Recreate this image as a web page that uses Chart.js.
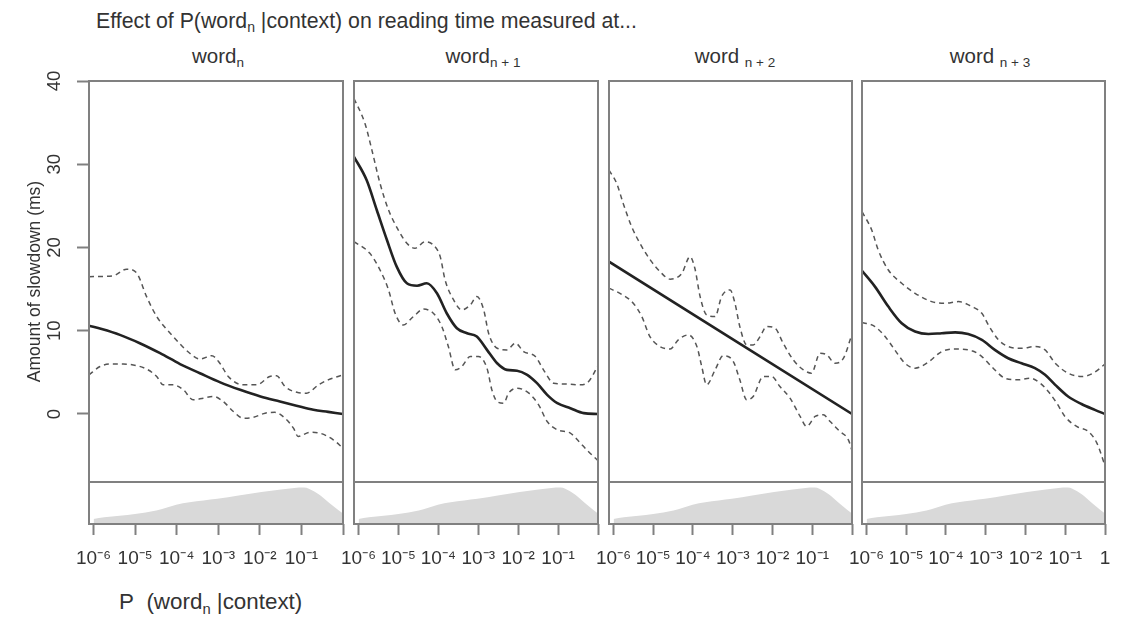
<!DOCTYPE html>
<html><head><meta charset="utf-8">
<script src="https://cdn.jsdelivr.net/npm/chart.js@4.4.1/dist/chart.umd.min.js"></script>
<style>
html,body{margin:0;padding:0;background:#fff;}
body{width:1124px;height:627px;position:relative;overflow:hidden;font-family:"Liberation Sans",Arial,sans-serif;color:#333;}
canvas{position:absolute;}
.txt{position:absolute;white-space:nowrap;line-height:1;}
.ctr{transform:translate(-50%,-50%);}
.box{position:absolute;border:2px solid #808080;box-sizing:border-box;pointer-events:none;}
sub{font-size:0.66em;vertical-align:-0.32em;line-height:0;}
</style></head><body>
<div class="txt" style="left:96px;top:11px;font-size:21.3px">Effect of P(word<sub>n</sub> |context) on reading time measured at...</div>
<div class="txt ctr" style="left:218px;top:56px;font-size:20.5px">word<sub>n</sub></div>
<div class="txt ctr" style="left:483px;top:56px;font-size:20.5px">word<sub>n + 1</sub></div>
<div class="txt ctr" style="left:735px;top:56px;font-size:20.5px">word <sub>n + 2</sub></div>
<div class="txt ctr" style="left:990px;top:56px;font-size:20.5px">word <sub>n + 3</sub></div>
<div class="txt" style="left:119px;top:591px;font-size:22.4px">P&nbsp; (word<sub>n</sub> |context)</div>
<script>
// ---------- data (log10 P(word_n|context), slowdown in ms) ----------
const panelNames = ['word_n', 'word_n+1', 'word_n+2', 'word_n+3'];
const yTicks = [0, 10, 20, 30, 40];
const xTickExp = [-6, -5, -4, -3, -2, -1, 0];
const xTickLabels = ['10\u207B\u2076','10\u207B\u2075','10\u207B\u2074','10\u207B\u00B3','10\u207B\u00B2','10\u207B\u00B9',''];
const xTickLabelsLast = ['10\u207B\u2076','10\u207B\u2075','10\u207B\u2074','10\u207B\u00B3','10\u207B\u00B2','10\u207B\u00B9','1'];

// panel 1: word_n
const p1FitX = [-6, -5.7, -5.27, -4.8, -4.32, -3.85, -3.38, -2.9, -2.43, -1.95, -1.49, -1.1, -0.7, -0.35, 0];
const p1FitY = [10.6, 10.2, 9.5, 8.5, 7.3, 6.0, 4.9, 3.8, 2.9, 2.1, 1.5, 1.0, 0.5, 0.25, 0];
const p1UpX = [-6, -5.43, -5.11, -4.87, -4.64, -4.40, -4.01, -3.62, -3.38, -3.10, -2.91, -2.71, -2.36, -2.04, -1.73, -1.57, -1.37, -1.09, -0.86, -0.58, -0.35, 0];
const p1UpY = [16.5, 16.6, 17.4, 16.9, 14.1, 11.7, 9.3, 7.3, 6.6, 7.0, 6.1, 4.5, 3.5, 3.5, 4.5, 4.6, 3.3, 2.6, 2.5, 3.5, 4.1, 4.7];
const p1LoX = [-6, -5.74, -5.50, -5.19, -4.87, -4.64, -4.40, -4.25, -4.01, -3.77, -3.54, -3.30, -3.06, -2.83, -2.59, -2.36, -2.12, -1.84, -1.61, -1.37, -1.17, -1.06, -0.78, -0.55, -0.23, 0];
const p1LoY = [4.7, 5.7, 6.0, 6.0, 5.8, 5.4, 4.5, 3.5, 3.5, 2.9, 1.7, 1.9, 2.1, 1.5, 0.3, -0.5, -0.4, 0.1, 0.2, -0.5, -1.7, -2.7, -2.2, -2.3, -3.1, -4.1];

// panel 2: word_n+1
const p2FitX = [-6, -5.69, -5.44, -5.19, -4.95, -4.70, -4.45, -4.21, -3.96, -3.72, -3.47, -3.22, -2.98, -2.73, -2.48, -2.24, -1.99, -1.74, -1.50, -1.25, -1.00, -0.68, -0.35, 0];
const p2FitY = [30.9, 28.1, 24.5, 20.9, 17.7, 15.7, 15.4, 15.7, 14.5, 12.1, 10.3, 9.7, 9.3, 7.7, 6.1, 5.3, 5.2, 4.7, 3.7, 2.3, 1.3, 0.7, 0.1, 0];
const p2UpX = [-6, -5.73, -5.56, -5.36, -5.15, -4.91, -4.70, -4.50, -4.25, -4.05, -3.88, -3.76, -3.55, -3.35, -3.14, -2.98, -2.81, -2.69, -2.48, -2.24, -2.03, -1.83, -1.54, -1.34, -1.09, -0.76, -0.43, -0.23, 0];
const p2UpY = [37.9, 34.9, 31.7, 27.7, 24.5, 22.1, 20.5, 19.9, 20.7, 20.3, 18.9, 16.1, 13.7, 12.5, 13.1, 14.1, 12.5, 9.7, 7.9, 7.7, 8.5, 7.5, 6.9, 5.3, 3.7, 3.6, 3.5, 3.9, 5.8];
const p2LoX = [-6, -5.61, -5.36, -5.15, -4.99, -4.79, -4.54, -4.29, -4.05, -3.84, -3.68, -3.51, -3.35, -3.14, -2.94, -2.73, -2.61, -2.48, -2.32, -2.20, -1.99, -1.70, -1.46, -1.25, -1.00, -0.68, -0.47, -0.26, 0];
const p2LoY = [20.7, 19.3, 17.3, 14.9, 12.1, 10.7, 11.7, 12.6, 12.1, 10.5, 8.1, 5.3, 5.7, 6.9, 6.9, 5.5, 2.9, 1.5, 1.3, 2.5, 3.1, 2.5, 1.1, -0.9, -1.9, -2.3, -3.3, -4.4, -5.6];

// panel 3: word_n+2
const p3FitX = [-6, 0];
const p3FitY = [18.3, 0];
const p3UpX = [-6, -5.81, -5.65, -5.44, -5.19, -4.95, -4.74, -4.49, -4.20, -4.00, -3.88, -3.75, -3.59, -3.38, -3.22, -3.01, -2.89, -2.77, -2.60, -2.44, -2.27, -2.11, -1.90, -1.70, -1.45, -1.20, -1.00, -0.79, -0.62, -0.42, -0.21, 0];
const p3UpY = [29.3, 27.7, 25.3, 22.5, 20.1, 18.3, 17.1, 16.2, 16.9, 18.9, 17.5, 14.1, 11.9, 11.7, 14.1, 14.9, 13.3, 10.5, 8.3, 8.3, 9.3, 10.5, 10.3, 8.5, 6.5, 5.3, 4.9, 7.3, 7.1, 6.1, 6.7, 9.6];
const p3LoX = [-6, -5.73, -5.40, -5.19, -4.99, -4.74, -4.49, -4.29, -4.04, -3.83, -3.71, -3.59, -3.38, -3.18, -2.93, -2.77, -2.60, -2.44, -2.19, -1.98, -1.78, -1.53, -1.28, -1.12, -0.91, -0.71, -0.54, -0.30, -0.09, 0];
const p3LoY = [15.1, 14.5, 13.3, 11.7, 9.3, 8.1, 7.8, 8.9, 9.5, 8.1, 5.7, 3.5, 5.3, 7.0, 6.3, 4.1, 1.7, 2.1, 4.5, 4.5, 3.3, 1.9, -0.3, -1.5, -0.3, -0.1, -0.9, -2.1, -3.1, -4.4];

// panel 4: word_n+3
const p4FitX = [-6, -5.68, -5.35, -5.02, -4.69, -4.36, -4.03, -3.70, -3.38, -3.04, -2.72, -2.39, -2.06, -1.73, -1.48, -1.23, -0.91, -0.58, -0.25, 0];
const p4FitY = [17.2, 15.3, 12.9, 10.9, 9.9, 9.6, 9.7, 9.8, 9.6, 8.9, 7.7, 6.7, 6.1, 5.5, 4.7, 3.5, 2.1, 1.2, 0.5, 0];
const p4UpX = [-6, -5.76, -5.60, -5.35, -5.02, -4.69, -4.28, -3.95, -3.62, -3.29, -3.04, -2.88, -2.63, -2.39, -2.06, -1.73, -1.48, -1.23, -0.91, -0.58, -0.29, 0];
const p4UpY = [24.3, 22.1, 19.7, 17.3, 15.7, 14.5, 13.5, 13.3, 13.5, 12.9, 12.1, 10.7, 8.9, 8.1, 7.9, 8.1, 7.7, 6.1, 4.9, 4.5, 4.9, 6.0];
const p4LoX = [-6, -5.68, -5.43, -5.19, -4.94, -4.69, -4.40, -4.03, -3.70, -3.29, -3.04, -2.80, -2.47, -2.14, -1.85, -1.60, -1.40, -1.19, -0.99, -0.70, -0.41, -0.20, 0];
const p4LoY = [11.0, 10.5, 9.3, 7.7, 6.1, 5.5, 6.1, 7.5, 7.8, 7.6, 6.9, 5.7, 4.3, 4.1, 4.3, 3.7, 2.7, 1.3, -0.3, -1.5, -2.1, -3.5, -6.2];

// density of P(word_n|context) (relative height, same in every panel)
const densX = [-6, -5.74, -5, -4.49, -4.01, -3.69, -3.02, -2.51, -1.96, -1.49, -1.17, -0.94, -0.70, -0.47, -0.23, 0];
const densY = [0.12, 0.16, 0.24, 0.32, 0.46, 0.52, 0.60, 0.68, 0.76, 0.82, 0.86, 0.87, 0.78, 0.62, 0.42, 0.25];

// ---------- layout ----------
const FONT = '"Liberation Sans", Arial, sans-serif';
const PANEL_X = [[89, 343], [354, 598], [609, 852], [862, 1105]];
const TOP = 81, MID = 482, BOT = 524;
const Y_MIN = -8.17, Y_MAX = 40;
const series = [
  [p1FitX, p1FitY, p1UpX, p1UpY, p1LoX, p1LoY],
  [p2FitX, p2FitY, p2UpX, p2UpY, p2LoX, p2LoY],
  [p3FitX, p3FitY, p3UpX, p3UpY, p3LoX, p3LoY],
  [p4FitX, p4FitY, p4UpX, p4UpY, p4LoX, p4LoY]
];
const pts = (xs, ys) => xs.map((lg, i) => ({x: Math.pow(10, lg), y: ys[i]}));

function makeCanvas(left, top, w, h) {
  const c = document.createElement('canvas');
  c.width = w; c.height = h;
  c.style.left = left + 'px'; c.style.top = top + 'px';
  c.style.width = w + 'px'; c.style.height = h + 'px';
  document.body.appendChild(c);
  return c;
}
function makeBox(x0, y0, x1, y1) {
  const d = document.createElement('div');
  d.className = 'box';
  d.style.left = (x0 - 1) + 'px'; d.style.top = (y0 - 1) + 'px';
  d.style.width = (x1 - x0 + 2) + 'px'; d.style.height = (y1 - y0 + 2) + 'px';
  document.body.appendChild(d);
}

Chart.defaults.font.family = FONT;
Chart.defaults.color = '#333';

PANEL_X.forEach(([x0, x1], i) => {
  const [fx, fy, ux, uy, lx, ly] = series[i];
  // ----- main panel -----
  const padL = 6, padR = 6, padT = 34, padB = 34;
  const yW = i === 0 ? 64 : 0;
  const c = makeCanvas(x0 - padL - yW, TOP - padT, (x1 - x0) + padL + padR + yW, (MID - TOP) + padT + padB);
  const yScale = {
    type: 'linear', min: Y_MIN, max: Y_MAX, display: false
  };
  if (i === 0) {
    Object.assign(yScale, {
      display: true, position: 'left',
      afterFit: s => { s.width = yW; },
      afterBuildTicks: s => { s.ticks = yTicks.map(v => ({value: v})); },
      ticks: {minRotation: 90, maxRotation: 90, crossAlign: 'center', padding: 12, font: {size: 18.5}, color: '#333'},
      grid: {drawOnChartArea: false, drawTicks: true, tickLength: 12, tickColor: '#808080', tickWidth: 2},
      border: {display: false},
      title: {display: true, text: 'Amount of slowdown (ms)', font: {size: 17.5}, color: '#333', padding: 0}
    });
  }
  new Chart(c, {
    type: 'line',
    data: {datasets: [
      {label: panelNames[i] + ' fit', data: pts(fx, fy), borderColor: '#222', borderWidth: 2.6, pointRadius: 0, cubicInterpolationMode: 'monotone', fill: false},
      {label: 'upper', data: pts(ux, uy), borderColor: '#555', borderWidth: 1.5, borderDash: [5, 4], pointRadius: 0, cubicInterpolationMode: 'monotone', fill: false},
      {label: 'lower', data: pts(lx, ly), borderColor: '#555', borderWidth: 1.5, borderDash: [5, 4], pointRadius: 0, cubicInterpolationMode: 'monotone', fill: false}
    ]},
    options: {
      responsive: false, animation: false, events: [],
      layout: {padding: {left: padL, right: padR, top: padT, bottom: padB}},
      plugins: {legend: {display: false}, tooltip: {enabled: false}},
      scales: {
        x: {type: 'logarithmic', min: 1e-6, max: 1, display: false},
        y: yScale
      }
    }
  });
  makeBox(x0, TOP, x1, MID);

  // ----- density panel -----
  const dPadL = 25, dPadR = 25, dPadT = 6, axisH = 56;
  const d = makeCanvas(x0 - dPadL, MID - dPadT, (x1 - x0) + dPadL + dPadR, (BOT - MID) + dPadT + axisH);
  const labels = i === 3 ? xTickLabelsLast : xTickLabels;
  new Chart(d, {
    type: 'line',
    data: {datasets: [
      {label: 'density', data: pts(densX, densY), borderWidth: 0, borderColor: 'rgba(0,0,0,0)', backgroundColor: '#d9d9d9', fill: 'origin', pointRadius: 0, cubicInterpolationMode: 'monotone'}
    ]},
    options: {
      responsive: false, animation: false, events: [],
      layout: {padding: {left: dPadL, right: dPadR, top: dPadT, bottom: 0}},
      plugins: {legend: {display: false}, tooltip: {enabled: false}},
      scales: {
        x: {
          type: 'logarithmic', min: 1e-6, max: 1, position: 'bottom',
          afterBuildTicks: s => { s.ticks = xTickExp.map(e => ({value: Math.pow(10, e)})); },
          afterFit: s => { s.height = axisH; },
          ticks: {autoSkip: false, maxRotation: 0, minRotation: 0, padding: 12, font: {size: 19}, color: '#333',
                  callback: (v, idx) => labels[idx]},
          grid: {drawOnChartArea: false, drawTicks: true, tickLength: 11, tickColor: '#808080', tickWidth: 2},
          border: {display: false}
        },
        y: {min: 0, max: 1, display: false}
      }
    }
  });
  makeBox(x0, MID, x1, BOT);
});
</script>
</body></html>
